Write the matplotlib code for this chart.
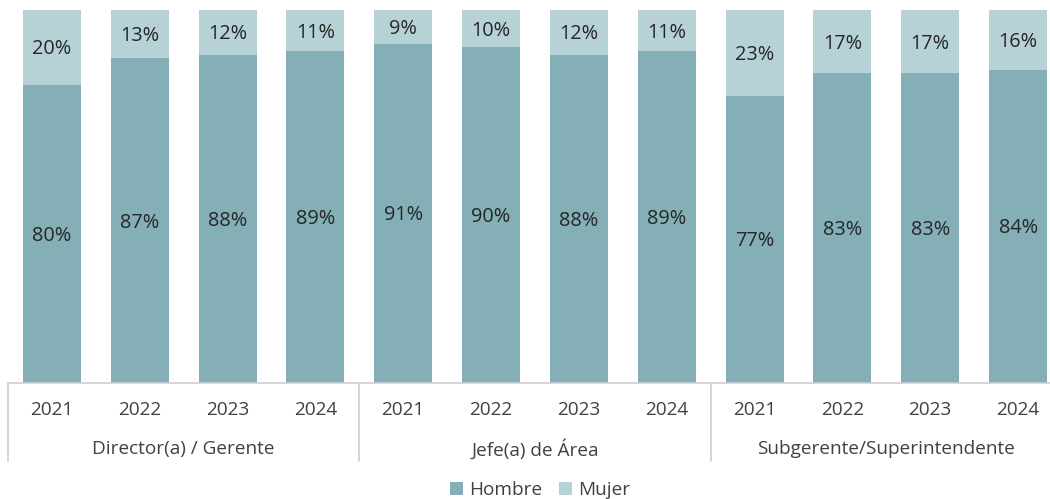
import matplotlib
matplotlib.use("Agg")
import matplotlib.pyplot as plt
from matplotlib.patches import Patch
import matplotlib.transforms as mtransforms

groups = ["Director(a) / Gerente", "Jefe(a) de Área", "Subgerente/Superintendente"]
years = ["2021", "2022", "2023", "2024"]
hombre = [80, 87, 88, 89, 91, 90, 88, 89, 77, 83, 83, 84]
mujer = [20, 13, 12, 11, 9, 10, 12, 11, 23, 17, 17, 16]

c_h = "#85AFB7"
c_m = "#B7D2D7"
txt = "#404040"
plt.rcParams['font.family'] = ['Open Sans', 'DejaVu Sans']

W, H = 1050, 499
fig = plt.figure(figsize=(W/100, H/100), dpi=100)
ax = fig.add_axes([8/W, (H-383)/H, 1054/W, 373/H])

n = len(hombre)
x = list(range(n))
bw = 0.66
ax.bar(x, hombre, width=bw, color=c_h, label="Hombre")
ax.bar(x, mujer, width=bw, bottom=hombre, color=c_m, label="Mujer")

fs = 13.7
fsd = 14.3
down = mtransforms.ScaledTranslation(0, -2/100, fig.dpi_scale_trans)
for i in range(n):
    ax.text(x[i], hombre[i]/2, f"{hombre[i]}%", ha='center', va='center', fontsize=fsd,
            color="#262626", transform=ax.transData + down)
    ax.text(x[i], hombre[i] + mujer[i]/2, f"{mujer[i]}%", ha='center', va='center', fontsize=fsd,
            color="#262626", transform=ax.transData + down)

ax.set_xlim(-0.5, n - 0.5)
ax.set_ylim(0, 100)
for s in ['top', 'right', 'left']:
    ax.spines[s].set_visible(False)
ax.spines['bottom'].set_color("#D0D0D0")
ax.spines['bottom'].set_linewidth(1.2)
ax.set_xticks([])
ax.set_yticks([])

trans = mtransforms.blended_transform_factory(ax.transData, ax.transAxes)
for i in range(n):
    ax.text(x[i], -27/373, years[i % 4], ha='center', va='center', fontsize=fs, color=txt, transform=trans)
for g, name in enumerate(groups):
    ax.text(g*4 + 1.5, -66/373, name, ha='center', va='center', fontsize=fs, color=txt, transform=trans)
for b in [-0.5, 3.5, 7.5, 11.5]:
    ax.plot([b, b], [0, -78/373], color="#D0D0D0", lw=1.2, transform=trans, clip_on=False)

handles = [Patch(facecolor=c_h, label="Hombre"), Patch(facecolor=c_m, label="Mujer")]
leg = fig.legend(handles=handles, loc='center', bbox_to_anchor=(540/W, 1 - 490/H), ncol=2, frameon=False,
                 fontsize=fs, handlelength=0.7, handleheight=0.7, handletextpad=0.3, columnspacing=0.9)
for t in leg.get_texts():
    t.set_color(txt)

fig.savefig("out.png", dpi=100)
